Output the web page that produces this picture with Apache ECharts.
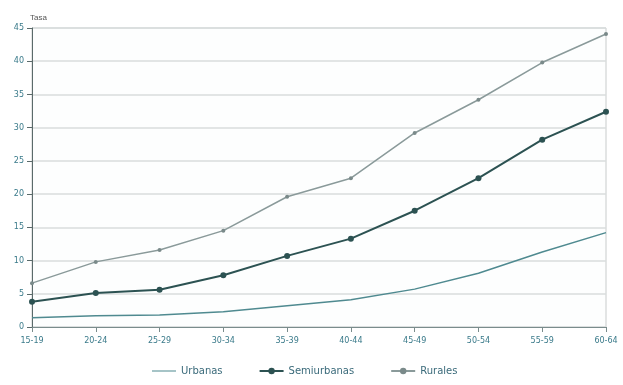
<!DOCTYPE html>
<html><head><meta charset="utf-8">
<script src="https://cdn.jsdelivr.net/npm/echarts@6/dist/echarts.min.js"></script>
<style>html,body{margin:0;padding:0;background:#fff}#c{width:623px;height:385px}</style>
</head><body><div id="c"></div>
<script>
var categories = ["15-19","20-24","25-29","30-34","35-39","40-44","45-49","50-54","55-59","60-64"];
var urbanas = [1.4,1.7,1.8,2.3,3.2,4.1,5.7,8.1,11.3,14.2];
var semiurbanas = [3.8,5.1,5.6,7.8,10.7,13.3,17.5,22.4,28.2,32.4];
var rurales = [6.6,9.8,11.6,14.5,19.6,22.4,29.2,34.2,39.8,44.1];
var yTicks = [0,5,10,15,20,25,30,35,40,45];
var seriesNames = ['Urbanas','Semiurbanas','Rurales'];

var lineIcon = 'path://M0,0L0.01,0L0.01,0.01Z M0,3.4L28,3.4L28,4.6L0,4.6Z M0,8L0.01,8L0.01,7.99Z';

var chart = echarts.init(document.getElementById('c'), null, {renderer:'canvas'});
chart.setOption({
  animation:false,
  backgroundColor:'#ffffff',
  grid:{left:32,right:17,top:28,bottom:58,show:true,borderColor:'#c8cccc',borderWidth:1,backgroundColor:'#fdfefe'},
  legend:{
    bottom:4,left:147,itemGap:36,itemWidth:24,itemHeight:8,
    textStyle:{fontSize:10,color:'#3a6a7a',fontFamily:'DejaVu Sans'},
    data:[{name:seriesNames[0],icon:lineIcon},seriesNames[1],seriesNames[2]]
  },
  xAxis:{
    type:'category',data:categories,boundaryGap:false,
    axisLine:{lineStyle:{color:'#7a8c8c'}},
    axisTick:{show:true,lineStyle:{color:'#7a8c8c'}},
    axisLabel:{fontSize:8,color:'#3a7a8a',margin:10,fontFamily:'DejaVu Sans'},
    splitLine:{show:false}
  },
  yAxis:{
    type:'value',min:yTicks[0],max:yTicks[yTicks.length-1],interval:5,
    name:'Tasa',nameGap:6,nameTextStyle:{fontSize:8,color:'#555',align:'left',padding:[0,0,0,-2]},
    axisLine:{show:true,lineStyle:{color:'#5a6a6a'}},
    axisTick:{show:true,lineStyle:{color:'#5a6a6a'}},
    axisLabel:{fontSize:8,color:'#3a7a8a',margin:8,fontFamily:'DejaVu Sans'},
    splitLine:{lineStyle:{color:'#d8dcdc',width:1.5}}
  },
  series:[
    {name:seriesNames[0],type:'line',data:urbanas,symbol:'none',smooth:false,
     lineStyle:{color:'#4f8a90',width:1.5},itemStyle:{color:'#4f8a90'}},
    {name:seriesNames[1],type:'line',data:semiurbanas,symbol:'circle',symbolSize:6,
     lineStyle:{color:'#2c5252',width:2},itemStyle:{color:'#2c5252'}},
    {name:seriesNames[2],type:'line',data:rurales,symbol:'circle',symbolSize:4,
     lineStyle:{color:'#8a9a9a',width:1.5},itemStyle:{color:'#7a8a8a'}}
  ]
});
</script></body></html>
